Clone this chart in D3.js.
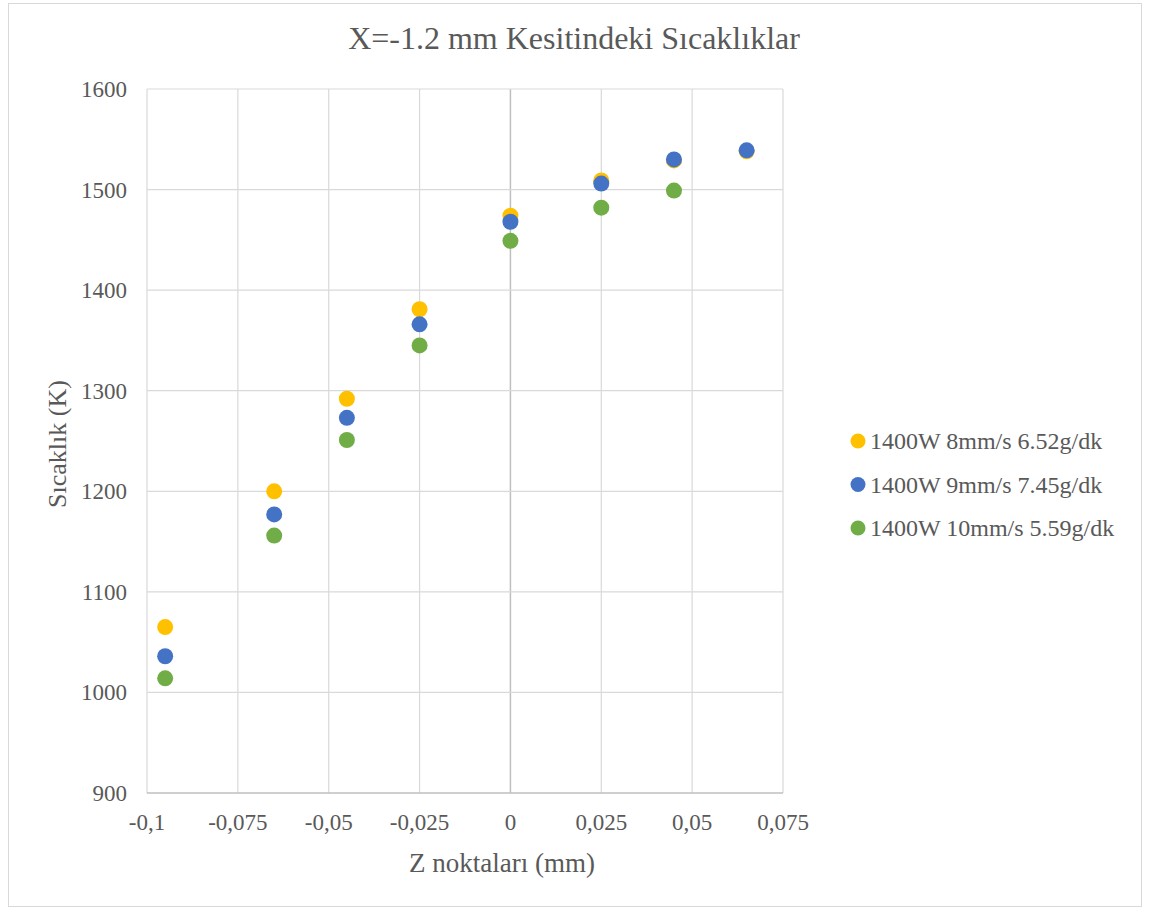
<!DOCTYPE html>
<html><head><meta charset="utf-8">
<script src="https://cdn.jsdelivr.net/npm/d3@7"></script>
<style>body{margin:0;background:#fff}</style>
</head><body>
<svg id="c" width="1150" height="909"></svg>
<script>
const xTicks = [-0.1, -0.075, -0.05, -0.025, 0, 0.025, 0.05, 0.075];
const yTicks = [900, 1000, 1100, 1200, 1300, 1400, 1500, 1600];
const zPoints = [-0.095, -0.065, -0.045, -0.025, 0, 0.025, 0.045, 0.065];
const seriesNames = ["1400W 8mm/s 6.52g/dk", "1400W 9mm/s 7.45g/dk", "1400W 10mm/s 5.59g/dk"];
const seriesColors = ["#FFC000", "#4472C4", "#70AD47"];
const s1 = [1065, 1200, 1292, 1381, 1474, 1509, 1529, 1538];
const s2 = [1036, 1177, 1273, 1366, 1468, 1506, 1530, 1539];
const s3 = [1014, 1156, 1251, 1345, 1449, 1482, 1499];
const seriesValues = [s1, s2, s3];

const svg = d3.select("#c");
const font = "'Liberation Serif','Times New Roman',serif";
const textCol = "#595959";

svg.append("rect").attr("x", 8.5).attr("y", 3.5).attr("width", 1133).attr("height", 903)
  .attr("fill", "#fff").attr("stroke", "#d9d9d9");

const x = d3.scaleLinear().domain([-0.1, 0.075]).range([147, 783]);
const y = d3.scaleLinear().domain([900, 1600]).range([793, 89]);

const g = svg.append("g");
g.selectAll(".vg").data(xTicks).enter().append("line")
  .attr("x1", d => x(d)).attr("x2", d => x(d)).attr("y1", y(1600)).attr("y2", y(900))
  .attr("stroke", d => d === 0 ? "#bfbfbf" : "#d9d9d9").attr("stroke-width", d => d === 0 ? 1.5 : 1.2);
g.selectAll(".hg").data(yTicks).enter().append("line")
  .attr("x1", x(-0.1)).attr("x2", x(0.075)).attr("y1", d => y(d)).attr("y2", d => y(d))
  .attr("stroke", d => d === 900 ? "#bfbfbf" : "#d9d9d9").attr("stroke-width", d => d === 900 ? 1.5 : 1.2);

const fmt = d => d === 0 ? "0" : String(d).replace(".", ",");
g.selectAll(".xl").data(xTicks).enter().append("text")
  .attr("x", d => x(d)).attr("y", 830).attr("text-anchor", "middle")
  .attr("font-family", font).attr("font-size", 23).attr("fill", textCol).text(fmt);
g.selectAll(".yl").data(yTicks).enter().append("text")
  .attr("x", 127).attr("y", d => y(d) + 8).attr("text-anchor", "end")
  .attr("font-family", font).attr("font-size", 23).attr("fill", textCol).text(d => d);

seriesValues.forEach((vals, i) => {
  svg.append("g").selectAll("circle").data(vals).enter().append("circle")
    .attr("cx", (d, j) => x(zPoints[j])).attr("cy", d => y(d)).attr("r", 8)
    .attr("fill", seriesColors[i]);
});

svg.append("text").attr("x", 574).attr("y", 49).attr("text-anchor", "middle")
  .attr("font-family", font).attr("font-size", 32).attr("fill", textCol)
  .text("X=-1.2 mm Kesitindeki Sıcaklıklar");
svg.append("text").attr("x", 502).attr("y", 872).attr("text-anchor", "middle")
  .attr("font-family", font).attr("font-size", 27).attr("fill", textCol).text("Z noktaları (mm)");
svg.append("text").attr("transform", "translate(66,444) rotate(-90)").attr("text-anchor", "middle")
  .attr("font-family", font).attr("font-size", 26).attr("fill", textCol).text("Sıcaklık (K)");

const leg = svg.append("g");
seriesNames.forEach((n, i) => {
  const ly = 441 + i * 43.5;
  leg.append("circle").attr("cx", 858).attr("cy", ly).attr("r", 7.5).attr("fill", seriesColors[i]);
  leg.append("text").attr("x", 870).attr("y", ly + 8).attr("font-family", font)
    .attr("font-size", 24).attr("fill", textCol).text(n);
});
</script>
</body></html>
